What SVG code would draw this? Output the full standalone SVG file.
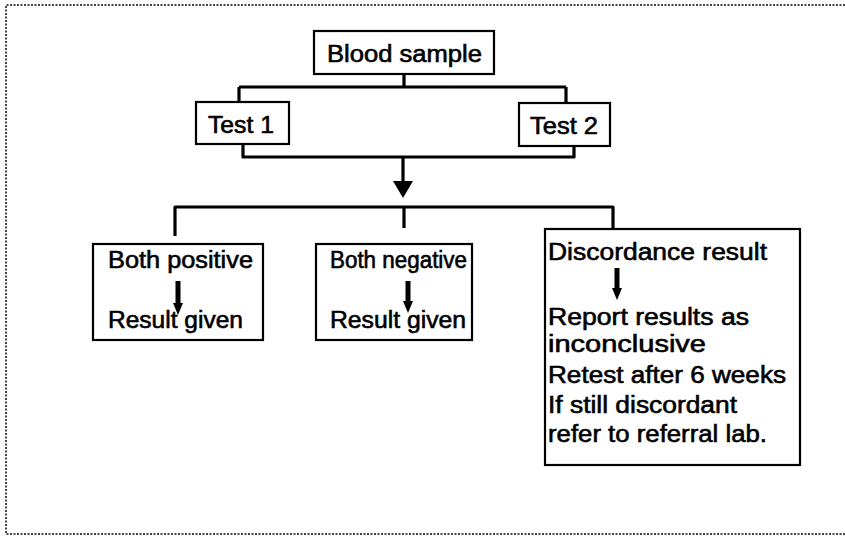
<svg xmlns="http://www.w3.org/2000/svg" width="845" height="537" viewBox="0 0 845 537">
<style>
.frame{fill:none;stroke:#444;stroke-width:2;stroke-dasharray:2 1.5}
.box{fill:#fff;stroke:#000;stroke-width:2.2}
.ln{fill:none;stroke:#000;stroke-width:3.2;stroke-linejoin:round}
.t{font-family:"Liberation Sans",Arial,sans-serif;font-size:23.5px;fill:#000;stroke:#000;stroke-width:0.6}
</style>
<rect width="845" height="537" fill="#fff"/>
<path class="frame" d="M845,5 H6 V534 H845"/>
<g id="connectors">
<path class="ln" d="M404,74 V87 M239,87 H566 M239,87 V102 M566,87 V103"/>
<path class="ln" d="M243,144 V157 H574 V146 M403,157 V182"/>
<polygon points="393,181 413,181 403,198" fill="#000"/>
<path class="ln" d="M175,236 V207 H613 V229 M404,207 V228"/>
</g>
<g id="blood-sample">
<rect class="box" x="314" y="31" width="180" height="43"/>
<text class="t" x="327" y="62" textLength="155" lengthAdjust="spacingAndGlyphs">Blood sample</text>
</g>
<g id="test1">
<rect class="box" x="196" y="102" width="93" height="42"/>
<text class="t" x="208" y="133" textLength="66" lengthAdjust="spacingAndGlyphs">Test 1</text>
</g>
<g id="test2">
<rect class="box" x="519" y="103" width="91" height="43"/>
<text class="t" x="530" y="134" textLength="68" lengthAdjust="spacingAndGlyphs">Test 2</text>
</g>
<g id="both-positive">
<rect class="box" x="93" y="244" width="170" height="96"/>
<text class="t" x="108" y="268" textLength="145" lengthAdjust="spacingAndGlyphs">Both positive</text>
<rect x="175.5" y="281" width="5" height="24" fill="#000"/>
<polygon points="173,303 183,303 178,315" fill="#000"/>
<text class="t" x="108" y="328" textLength="135" lengthAdjust="spacingAndGlyphs">Result given</text>
</g>
<g id="both-negative">
<rect class="box" x="316" y="244" width="156" height="96"/>
<text class="t" x="330" y="268" textLength="137" lengthAdjust="spacingAndGlyphs">Both negative</text>
<rect x="405.5" y="281" width="5" height="22" fill="#000"/>
<polygon points="403,301 413,301 408,313" fill="#000"/>
<text class="t" x="330" y="328" textLength="136" lengthAdjust="spacingAndGlyphs">Result given</text>
</g>
<g id="discordance">
<rect class="box" x="545" y="229" width="255" height="236"/>
<text class="t" x="548" y="260" textLength="219" lengthAdjust="spacingAndGlyphs">Discordance result</text>
<rect x="614.5" y="268" width="5" height="21" fill="#000"/>
<polygon points="612,288 622,288 617,300" fill="#000"/>
<text class="t" x="548" y="325" textLength="201" lengthAdjust="spacingAndGlyphs">Report results as</text>
<text class="t" x="548" y="352" textLength="158" lengthAdjust="spacingAndGlyphs">inconclusive</text>
<text class="t" x="548" y="383" textLength="238" lengthAdjust="spacingAndGlyphs">Retest after 6 weeks</text>
<text class="t" x="548" y="413" textLength="189" lengthAdjust="spacingAndGlyphs">If still discordant</text>
<text class="t" x="548" y="442" textLength="219" lengthAdjust="spacingAndGlyphs">refer to referral lab.</text>
</g>
</svg>
